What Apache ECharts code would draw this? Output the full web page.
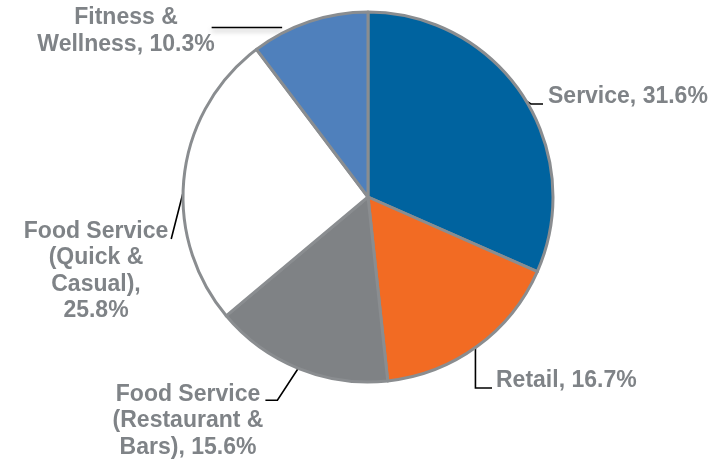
<!DOCTYPE html>
<html><head><meta charset="utf-8">
<script src="https://cdn.jsdelivr.net/npm/echarts@6/dist/echarts.min.js"></script>
<style>html,body{margin:0;padding:0;background:#fff}#c{width:726px;height:464px}</style>
</head><body><div id="c"></div>
<script>
var categories = ['Service', 'Retail', 'Food Service (Restaurant & Bars)', 'Food Service (Quick & Casual)', 'Fitness & Wellness'];
var values = [31.6, 16.7, 15.6, 25.8, 10.3];
var labelTexts = ['Service, 31.6%', 'Retail, 16.7%', 'Food Service\n(Restaurant &\nBars), 15.6%', 'Food Service\n(Quick &\nCasual),\n25.8%', 'Fitness &\nWellness, 10.3%'];
var colors = ['#00639f', '#f26b23', '#7f8285', '#ffffff', '#4f80bc'];

var CENTER = [368, 197], RADIUS = 185;
var labelPos = [
  {x: 548, y: 97, align: 'left', line: 'elbowLeft'},
  {x: 496, y: 381, align: 'left', line: 'elbowDown'},
  {x: 188, y: 421, align: 'center', line: 'elbowFirst'},
  {x: 96, y: 271, align: 'center', line: 'straightFirst'},
  {x: 126, y: 31, align: 'center', line: 'horizontal'}
];
var total = values.reduce(function (a, b) { return a + b; }, 0);
function edgePoint(i, r) {
  var before = 0;
  for (var k = 0; k < i; k++) before += values[k];
  var mid = before + values[i] / 2;
  var ang = (90 - mid / total * 360) * Math.PI / 180;
  return [CENTER[0] + r * Math.cos(ang), CENTER[1] - r * Math.sin(ang)];
}
var chart = echarts.init(document.getElementById('c'), null, {renderer: 'canvas'});
chart.setOption({
  animation: false,
  series: [{
    type: 'pie',
    center: CENTER,
    radius: RADIUS,
    startAngle: 90,
    clockwise: true,
    data: categories.map(function (n, i) {
      var d = {name: n, value: values[i], itemStyle: {color: colors[i]}};
      if (i === 4) d.labelLine = {lineStyle: {shadowColor: 'rgba(0,0,0,0.35)', shadowBlur: 5, shadowOffsetY: 3}};
      return d;
    }),
    itemStyle: {borderColor: '#8a8d90', borderWidth: 3},
    label: {
      show: true,
      position: 'outside',
      formatter: function (p) { return labelTexts[p.dataIndex]; },
      color: '#7f8387',
      fontFamily: 'Liberation Sans, Arial, sans-serif',
      fontWeight: 'bold',
      fontSize: 23,
      lineHeight: 26.5
    },
    labelLine: {show: true, lineStyle: {color: '#000', width: 1.6}, length: 10, length2: 10},
    labelLayout: function (p) {
      var i = p.dataIndex, o = labelPos[i];
      var w = p.labelRect.width, h = p.labelRect.height;
      var left = o.align === 'left' ? o.x : o.x - w / 2;
      var top = o.y - h / 2, right = left + w;
      var s = edgePoint(i, RADIUS - 3);
      var pts;
      if (o.line === 'elbowLeft') {
        pts = [s, [left - 17, o.y + 7], [left - 5, o.y + 7]];
      } else if (o.line === 'elbowDown') {
        pts = [s, [s[0], o.y + 7], [left - 4, o.y + 7]];
      } else if (o.line === 'elbowFirst') {
        var y1 = top + 19;
        pts = [s, [right + 14, y1], [right + 2, y1]];
      } else if (o.line === 'straightFirst') {
        var y2 = top + 21, e = [right + 3, y2];
        pts = [s, [(s[0] + e[0]) / 2, (s[1] + e[1]) / 2], e];
      } else {
        var y3 = s[1] + 3;
        pts = [[s[0] - 28, y3], [(s[0] - 28 + right - 3) / 2, y3], [right - 3, y3]];
      }
      return {x: o.x, y: o.y, align: o.align, verticalAlign: 'middle', labelLinePoints: pts};
    },
    emphasis: {disabled: true}
  }]
});
</script></body></html>
